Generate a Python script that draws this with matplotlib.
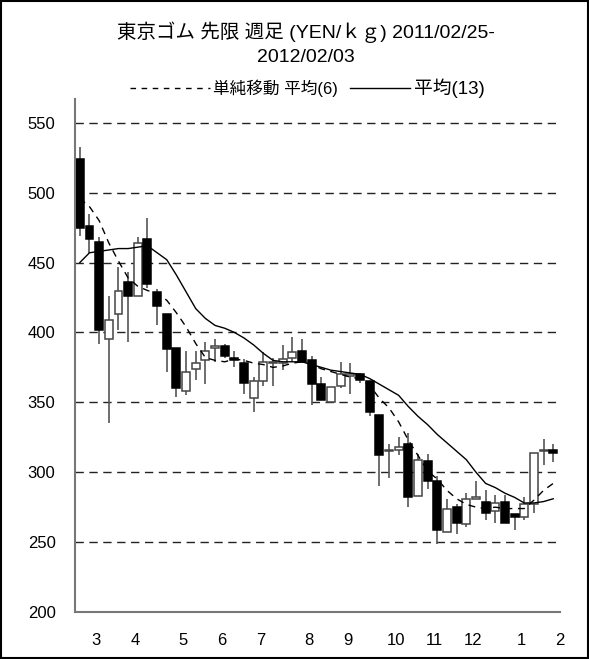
import pandas as pd
import matplotlib.pyplot as plt
from matplotlib.patches import Rectangle
from matplotlib.lines import Line2D

plt.rcParams['font.family'] = ['Liberation Sans', 'Noto Sans CJK JP']

# 週足データ (2011/02/25 - 2012/02/03)
weeks = pd.date_range('2011-02-25', periods=50, freq='7D')

opens = [524, 476, 465, 395, 413, 436, 426, 467, 429, 413,
         389, 358, 374, 380, 389, 390, 382, 378, 353, 365,
         378, 378, 382, 387, 380, 363, 350, 362, 369, 370,
         365, 341, 315, 316, 320, 283, 308, 294, 257, 275,
         263, 281, 279, 272, 279, 270, 268, 277, 315, 316]
highs = [533, 485, 468, 426, 447, 443, 468, 482, 431, 413,
         389, 387, 387, 393, 395, 392, 387, 381, 368, 386,
         382, 391, 397, 395, 383, 368, 361, 379, 378, 371,
         365, 341, 320, 325, 328, 313, 313, 297, 281, 277,
         285, 294, 287, 284, 284, 270, 282, 314, 324, 320]
lows = [469, 457, 392, 335, 402, 393, 426, 432, 405, 372,
        354, 355, 366, 363, 379, 382, 375, 356, 343, 362,
        362, 373, 379, 378, 348, 352, 350, 360, 356, 364,
        340, 290, 296, 312, 275, 283, 288, 249, 257, 256,
        261, 281, 266, 264, 264, 259, 266, 271, 305, 307]
closes = [475, 467, 402, 409, 430, 426, 464, 435, 419, 388,
          360, 372, 378, 387, 390, 383, 380, 364, 365, 379,
          379, 381, 386, 379, 363, 352, 361, 370, 370, 366,
          343, 312, 315, 318, 282, 309, 294, 259, 274, 264,
          281, 282, 271, 278, 264, 268, 277, 314, 315, 314]

# 移動平均 (チャートから読み取り)
ma6 = [496, 490, 480, 464, 451, 439, 433, 430, 428, 423,
       414, 404, 392, 382, 380, 379, 381, 380, 378, 377,
       375, 376, 378, 379, 377, 374, 372, 370, 368, 367,
       362, 353, 346, 336, 323, 312, 301, 295, 287, 281,
       277, 275, 274, 275, 274, 274, 274, 280, 287, 292]
ma13 = [450, 457, 458, 459, 460, 460, 461, 462, 457, 452,
        441, 429, 417, 410, 405, 403, 400, 396, 391, 385,
        380, 379, 379, 379, 377, 375, 373, 372, 371, 370,
        367, 363, 359, 355, 347, 340, 334, 327, 321, 315,
        309, 300, 292, 289, 285, 282, 278, 278, 279, 281]

df = pd.DataFrame({'open': opens, 'high': highs, 'low': lows, 'close': closes,
                   'ma6': ma6, 'ma13': ma13}, index=weeks)
x = list(range(len(df)))

W, H = 589, 659
fig = plt.figure(figsize=(W / 100, H / 100), dpi=100)
ax = fig.add_axes([75 / W, 47 / H, 485 / W, 513 / H])

# 罫線
for v in range(250, 551, 50):
    ax.axhline(v, color='#222222', lw=1, ls=(0, (6, 4)), zorder=0)

# ひげ
ax.vlines(x, df['low'], df['high'], color='#555555', lw=1.2, zorder=1)

# ローソク足
up = df['close'] >= df['open']
bottoms = df[['open', 'close']].min(axis=1)
heights = (df['close'] - df['open']).abs().clip(lower=0.6)
ax.bar([i for i in x if up.iloc[i]], heights[up], bottom=bottoms[up], width=0.82,
       color='white', edgecolor='#444444', lw=1.1, zorder=2)
ax.bar([i for i in x if not up.iloc[i]], heights[~up], bottom=bottoms[~up], width=0.82,
       color='black', edgecolor='black', lw=1.1, zorder=2)

# 移動平均線
ax.plot(x, df['ma6'], color='black', lw=1, ls=(0, (5, 4)), zorder=3)
ax.plot(x, df['ma13'], color='black', lw=1, zorder=3)

ax.set_xlim(-0.5, 49.45)
ax.set_ylim(200, 567)
ax.set_yticks(range(200, 551, 50))

# 月ラベル: 各月の最初の週
month_pos = []
month_lab = []
prev = None
for i, d in enumerate(weeks):
    if d.month != prev:
        if i > 0:
            month_pos.append(i + 0.7)
            month_lab.append(str(d.month))
        prev = d.month
ax.set_xticks(month_pos)
ax.set_xticklabels(month_lab)

ax.tick_params(axis='y', length=0, pad=14, labelsize=12)
ax.tick_params(axis='x', length=0, pad=15, labelsize=12)
for s in ['top', 'right']:
    ax.spines[s].set_visible(False)
for s in ['left', 'bottom']:
    ax.spines[s].set_color('#777777')
    ax.spines[s].set_linewidth(1.5)

# タイトル
fig.text(306 / W, 1 - 32 / H, '東京ゴム 先限 週足 (YEN/ｋｇ) 2011/02/25-',
         ha='center', va='center', fontsize=14)
fig.text(306 / W, 1 - 57 / H, '2012/02/03', ha='center', va='center', fontsize=14)

# 凡例
ly = 1 - 88 / H
fig.add_artist(Line2D([130 / W, 210 / W], [ly, ly], color='black', lw=1,
                      ls=(0, (4, 4)), transform=fig.transFigure))
fig.text(213 / W, ly, '単純移動 平均(6)', ha='left', va='center', fontsize=12)
fig.add_artist(Line2D([350 / W, 410 / W], [ly, ly], color='black', lw=1,
                      transform=fig.transFigure))
fig.text(414 / W, ly, '平均(13)', ha='left', va='center', fontsize=13.5)

fig.patches.append(Rectangle((0.001, 0.001), 0.997, 0.997, transform=fig.transFigure,
                             fill=False, edgecolor='black', lw=1.5))

fig.savefig('out.png', dpi=100)
